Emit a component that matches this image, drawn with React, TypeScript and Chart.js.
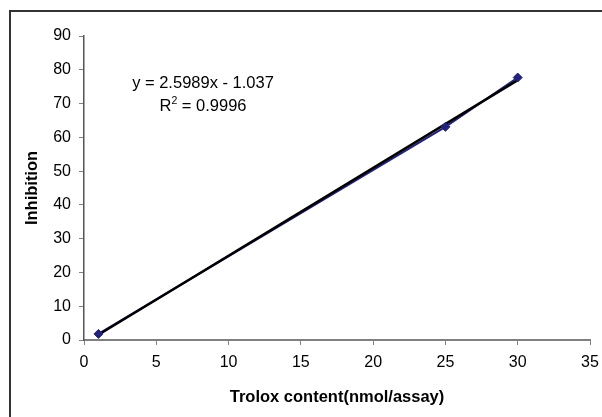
import React, { useEffect, useRef } from "react";
import { Chart, registerables } from "chart.js";

Chart.register(...registerables);

const trolox = [1, 25, 30];
const inhibition = [1.8, 63.1, 77.7];
const trendSlope = 2.5989;
const trendIntercept = -1.037;
const trendX = [1, 30];
const equationText = "y = 2.5989x - 1.037";
const r2Value = "0.9996";
const xTitle = "Trolox content(nmol/assay)";
const yTitle = "Inhibition";

const FONT = "'Liberation Sans', Arial, sans-serif";

const equationPlugin = {
  id: "equation",
  afterDraw(chart: any) {
    const ctx = chart.ctx as CanvasRenderingContext2D;
    const cx = 203;
    ctx.save();
    ctx.fillStyle = "#000";
    ctx.font = `16.5px ${FONT}`;
    ctx.textAlign = "center";
    ctx.textBaseline = "alphabetic";
    ctx.fillText(equationText, cx, 88);
    const rest = " = " + r2Value;
    ctx.font = `16.5px ${FONT}`;
    const wR = ctx.measureText("R").width;
    const wRest = ctx.measureText(rest).width;
    ctx.font = `10.5px ${FONT}`;
    const w2 = ctx.measureText("2").width;
    const total = wR + w2 + wRest;
    let x = cx - total / 2;
    ctx.textAlign = "left";
    ctx.font = `16.5px ${FONT}`;
    ctx.fillText("R", x, 111);
    x += wR;
    ctx.font = `10.5px ${FONT}`;
    ctx.fillText("2", x, 104);
    x += w2;
    ctx.font = `16.5px ${FONT}`;
    ctx.fillText(rest, x, 111);
    ctx.restore();
  },
};

export default function App() {
  const canvasRef = useRef<HTMLCanvasElement | null>(null);

  useEffect(() => {
    if (!canvasRef.current) return;
    const points = trolox.map((x, i) => ({ x, y: inhibition[i] }));
    const trend = trendX.map((x) => ({ x, y: trendSlope * x + trendIntercept }));
    const chart = new Chart(canvasRef.current, {
      type: "scatter",
      data: {
        datasets: [
          {
            label: "series line",
            data: points,
            showLine: true,
            borderColor: "#22227a",
            borderWidth: 2,
            pointRadius: 0,
            order: 3,
          },
          {
            label: "trend",
            data: trend,
            showLine: true,
            borderColor: "#000000",
            borderWidth: 2.5,
            pointRadius: 0,
            order: 2,
          },
          {
            label: "points",
            data: points,
            showLine: false,
            pointStyle: "rectRot",
            pointRadius: 4.5,
            backgroundColor: "#22227a",
            borderColor: "#22227a",
            borderWidth: 1,
            order: 1,
          },
        ],
      },
      options: {
        animation: false,
        responsive: false,
        devicePixelRatio: 1,
        layout: { padding: { left: 0, top: 36, right: 12, bottom: 0 } },
        plugins: { legend: { display: false }, tooltip: { enabled: false } },
        scales: {
          x: {
            type: "linear",
            min: 0,
            max: 35,
            ticks: { stepSize: 5, color: "#000", padding: 8, font: { family: FONT, size: 16 } },
            grid: { drawOnChartArea: false, drawTicks: true, tickLength: 5, color: "#808080" },
            border: { color: "#808080", width: 2 },
            title: {
              display: true,
              text: xTitle,
              color: "#000",
              font: { family: FONT, size: 16.5, weight: "bold" },
              padding: { top: 0, bottom: 10 },
            },
            afterFit(scale: any) {
              scale.height = 77;
              scale.paddingRight = 0;
              scale.paddingLeft = 0;
            },
          },
          y: {
            type: "linear",
            min: 0,
            max: 90,
            ticks: { stepSize: 10, color: "#000", padding: 8, font: { family: FONT, size: 16 } },
            grid: { drawOnChartArea: false, drawTicks: true, tickLength: 5, color: "#808080" },
            border: { color: "#555", width: 1.5 },
            title: {
              display: true,
              text: yTitle,
              color: "#000",
              font: { family: FONT, size: 16.5, weight: "bold" },
              padding: { top: 23, bottom: 0 },
            },
            afterFit(scale: any) {
              scale.width = 84;
              scale.paddingTop = 0;
              scale.paddingBottom = 0;
            },
          },
        },
      },
      plugins: [equationPlugin],
    });
    return () => chart.destroy();
  }, []);

  return (
    <div
      style={{
        position: "fixed",
        left: 0,
        top: 0,
        width: 602,
        height: 417,
        overflow: "hidden",
        background: "#fff",
      }}
    >
      <div
        style={{
          position: "absolute",
          left: 9,
          top: 10,
          width: 700,
          height: 500,
          borderTop: "2px solid #333",
          borderLeft: "2px solid #333",
        }}
      />
      <canvas
        ref={canvasRef}
        width={602}
        height={417}
        style={{ position: "absolute", left: 0, top: 0, width: 602, height: 417 }}
      />
    </div>
  );
}
